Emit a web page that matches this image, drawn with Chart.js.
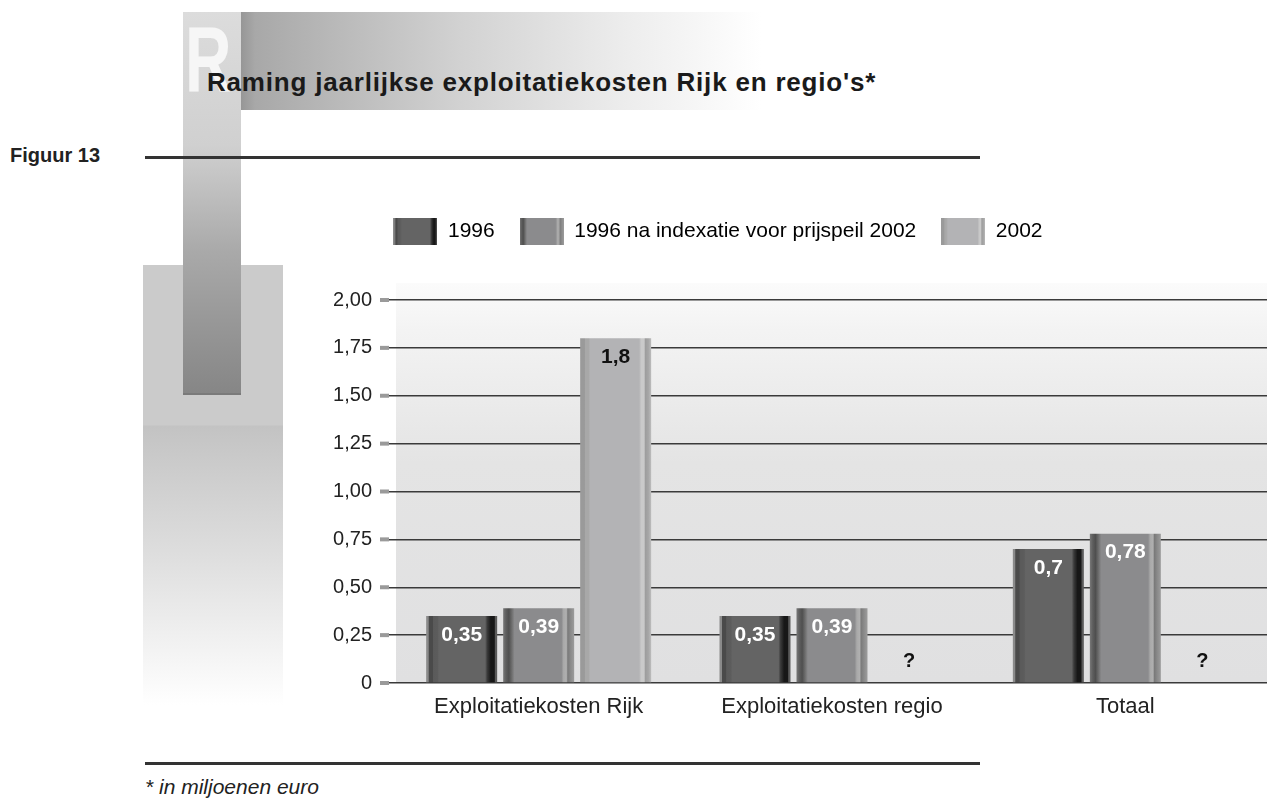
<!DOCTYPE html>
<html lang="nl">
<head>
<meta charset="utf-8">
<title>Raming jaarlijkse exploitatiekosten Rijk en regio's</title>
<script src="https://cdn.jsdelivr.net/npm/chart.js@4/dist/chart.umd.min.js"></script>
<style>
  html, body { margin: 0; padding: 0; }
  body {
    width: 1267px; height: 798px; overflow: hidden; position: relative;
    background: #fff; font-family: 'Liberation Sans', Arial, sans-serif; color: #1e1e1e;
  }
  .abs { position: absolute; }
  #sidebox {
    left: 143px; top: 265px; width: 140px; height: 440px;
    background: linear-gradient(to bottom, #cbcbcb 0px, #cbcbcb 160px, #c3c3c3 161px, #dedede 290px, #fff 440px);
  }
  #strip {
    left: 183px; top: 12px; width: 58px; height: 381px;
    background: linear-gradient(to bottom, #dcdcdc 0%, #d0d0d0 35%, #a9a9a9 63%, #868686 100%);
    border-bottom: 2px solid #7a7a7a;
  }
  #band {
    left: 241px; top: 12px; width: 520px; height: 98px;
    background: linear-gradient(to right, #969696 0px, #a8a8a8 14px, #b8b8b8 90px, #d2d2d2 220px, #ececec 380px, #fff 520px);
  }
  #bigR {
    left: 185px; top: 13px; font-size: 92px; line-height: 1; font-weight: bold;
    color: #f6f6f6; transform: scaleX(0.7); transform-origin: left top;
  }
  #title {
    left: 207px; top: 69px; font-size: 26px; line-height: 1; font-weight: bold;
    letter-spacing: 0.8px; color: #1a1a1a; white-space: nowrap;
  }
  #fig { left: 10px; top: 145px; font-size: 20px; line-height: 1; font-weight: bold; color: #222; }
  .rule { left: 145px; width: 835px; height: 3px; background: #333; }
  #note { left: 145px; top: 776px; font-size: 21px; line-height: 1; font-style: italic; color: #222; }
  #c { position: absolute; left: 0; top: 0; }
</style>
</head>
<body>
<div id="sidebox" class="abs"></div>
<div id="band" class="abs"></div>
<div id="strip" class="abs"></div>
<div id="bigR" class="abs">R</div>
<div id="title" class="abs">Raming jaarlijkse exploitatiekosten Rijk en regio's*</div>
<div id="fig" class="abs">Figuur 13</div>
<div class="abs rule" style="top:156px"></div>
<div class="abs rule" style="top:762px"></div>
<div id="note" class="abs">* in miljoenen euro</div>
<canvas id="c" width="1300" height="798"></canvas>
<script>
var categories = ['Exploitatiekosten Rijk', 'Exploitatiekosten regio', 'Totaal'];
var seriesNames = ['1996', '1996 na indexatie voor prijspeil 2002', '2002'];
var values1996 = [0.35, 0.35, 0.7];
var values1996Indexed = [0.39, 0.39, 0.78];
var values2002 = [1.8, null, null];
var yTickValues = [0, 0.25, 0.5, 0.75, 1, 1.25, 1.5, 1.75, 2];

var CAT_PCT = 0.7875;
var BAR_PCT = 0.922;

// stripes across each bar, left to right
var barStripes = [
    [[0, '#8a8a8a'], [0.03, '#8a8a8a'], [0.04, '#4a4a4a'], [0.09, '#4a4a4a'], [0.10, '#5a5a5a'],
     [0.16, '#5c5c5c'], [0.18, '#646464'], [0.83, '#646464'], [0.86, '#3a3a3a'], [0.89, '#262626'],
     [0.91, '#171717'], [0.96, '#171717'], [0.975, '#5a5a5a'], [1, '#5a5a5a']],
    [[0, '#787878'], [0.04, '#5e5e5e'], [0.08, '#4f4f4f'], [0.12, '#6c6c6c'], [0.16, '#8b8b8d'],
     [0.82, '#8b8b8d'], [0.85, '#a9a9a9'], [0.89, '#b0b0b0'], [0.91, '#7a7a7a'], [0.95, '#8a8a8a'],
     [1, '#9c9c9c']],
    [[0, '#9a9a9a'], [0.06, '#9a9a9a'], [0.075, '#a8a8a8'], [0.12, '#a8a8a8'], [0.14, '#b3b3b5'],
     [0.83, '#b3b3b5'], [0.86, '#cacaca'], [0.9, '#cacaca'], [0.92, '#9e9e9e'], [0.96, '#a6a6a6'],
     [1, '#bdbdbd']]
];
var labelColors = ['#ffffff', '#ffffff', '#111111'];

function fillStripes(ctx, x0, x1, stops) {
    var g = ctx.createLinearGradient(x0, 0, x1, 0);
    stops.forEach(function (s) { g.addColorStop(s[0], s[1]); });
    return g;
}

function barColor(i) {
    return function (context) {
        var chart = context.chart;
        var x = chart.scales.x;
        if (!x || context.dataIndex === undefined) return barStripes[i][8][1];
        var cw = x.width / categories.length;
        var chunk = cw * CAT_PCT / seriesNames.length;
        var center = x.getPixelForValue(context.dataIndex) - cw * CAT_PCT / 2 + chunk * (i + 0.5);
        var half = chunk * BAR_PCT / 2;
        return fillStripes(chart.ctx, center - half, center + half, barStripes[i]);
    };
}

function legendBox(i) {
    var cv = document.createElement('canvas');
    cv.width = 44;
    cv.height = 27;
    var c = cv.getContext('2d');
    c.fillStyle = fillStripes(c, 0, 44, barStripes[i]);
    c.fillRect(0, 0, 44, 27);
    return cv;
}

function fmt(v) {
    return String(v).replace('.', ',');
}

var plotBackground = {
    id: 'plotBackground',
    beforeDraw: function (chart) {
        var a = chart.chartArea, ctx = chart.ctx;
        var top = a.top - 17;
        var g = ctx.createLinearGradient(0, top, 0, a.bottom);
        g.addColorStop(0, '#fbfbfb');
        g.addColorStop(0.12, '#f3f3f3');
        g.addColorStop(0.45, '#e4e4e4');
        g.addColorStop(1, '#e0e0e1');
        ctx.save();
        ctx.fillStyle = g;
        ctx.fillRect(a.left + 4, top, a.right - a.left, a.bottom - top);
        ctx.restore();
    },
    afterDraw: function (chart) {
        var y = chart.scales.y, ctx = chart.ctx;
        ctx.save();
        ctx.fillStyle = '#9a9a9a';
        yTickValues.forEach(function (v) {
            var py = y.getPixelForValue(v);
            ctx.fillRect(chart.chartArea.left - 12, py - 2, 9, 4);
        });
        ctx.restore();
    }
};

var valueLabels = {
    id: 'valueLabels',
    afterDatasetsDraw: function (chart) {
        var ctx = chart.ctx;
        var zero = chart.scales.y.getPixelForValue(0);
        ctx.save();
        ctx.textAlign = 'center';
        ctx.textBaseline = 'middle';
        chart.data.datasets.forEach(function (ds, i) {
            chart.getDatasetMeta(i).data.forEach(function (el, j) {
                var v = ds.data[j];
                if (v === null) {
                    ctx.fillStyle = '#111';
                    ctx.font = "bold 20px 'Liberation Sans', Arial, sans-serif";
                    ctx.fillText('?', el.x, zero - 22);
                } else {
                    ctx.fillStyle = labelColors[i];
                    ctx.font = "bold 21px 'Liberation Sans', Arial, sans-serif";
                    ctx.fillText(fmt(v), el.x, el.y + 19);
                }
            });
        });
        ctx.restore();
    }
};

var legendSpace = {
    id: 'legendSpace',
    beforeInit: function (chart) {
        var fit = chart.legend.fit;
        chart.legend.fit = function () {
            fit.bind(chart.legend)();
            this.height += 48.5;
        };
    }
};

Chart.defaults.font.family = "'Liberation Sans', Arial, sans-serif";
Chart.defaults.color = '#222';

var boxes = seriesNames.map(function (n, i) { return legendBox(i); });

new Chart(document.getElementById('c').getContext('2d'), {
    type: 'bar',
    data: {
        labels: categories,
        datasets: [
            { label: seriesNames[0], data: values1996, backgroundColor: barColor(0) },
            { label: seriesNames[1], data: values1996Indexed, backgroundColor: barColor(1) },
            { label: seriesNames[2], data: values2002, backgroundColor: barColor(2) }
        ]
    },
    options: {
        responsive: false,
        animation: false,
        categoryPercentage: CAT_PCT,
        barPercentage: BAR_PCT,
        layout: { padding: { left: 164, right: 28, top: 195.5, bottom: 75 } },
        plugins: {
            tooltip: { enabled: false },
            legend: {
                position: 'top',
                align: 'center',
                labels: {
                    usePointStyle: true,
                    pointStyleWidth: 44,
                    padding: 25,
                    color: '#222',
                    font: { size: 21 },
                    generateLabels: function () {
                        return seriesNames.map(function (n, i) {
                            return {
                                text: n, pointStyle: boxes[i], datasetIndex: i,
                                fillStyle: 'transparent', strokeStyle: 'transparent', lineWidth: 0, hidden: false
                            };
                        });
                    }
                }
            }
        },
        scales: {
            x: {
                grid: { display: false, drawTicks: false },
                border: { display: false },
                ticks: { font: { size: 22 }, padding: 11, color: '#222' },
                afterFit: function (s) { s.height = 40; }
            },
            y: {
                min: 0,
                max: 2,
                afterBuildTicks: function (s) {
                    s.ticks = yTickValues.map(function (v) { return { value: v }; });
                },
                grid: { color: '#3a3a3a', lineWidth: 1.5, tickLength: 3, drawTicks: true },
                border: { display: false },
                ticks: {
                    padding: 17,
                    font: { size: 20 },
                    color: '#222',
                    callback: function (v) { return v === 0 ? '0' : v.toFixed(2).replace('.', ','); }
                },
                afterFit: function (s) { s.width = 228; }
            }
        }
    },
    plugins: [plotBackground, valueLabels, legendSpace]
});
</script>
</body>
</html>
